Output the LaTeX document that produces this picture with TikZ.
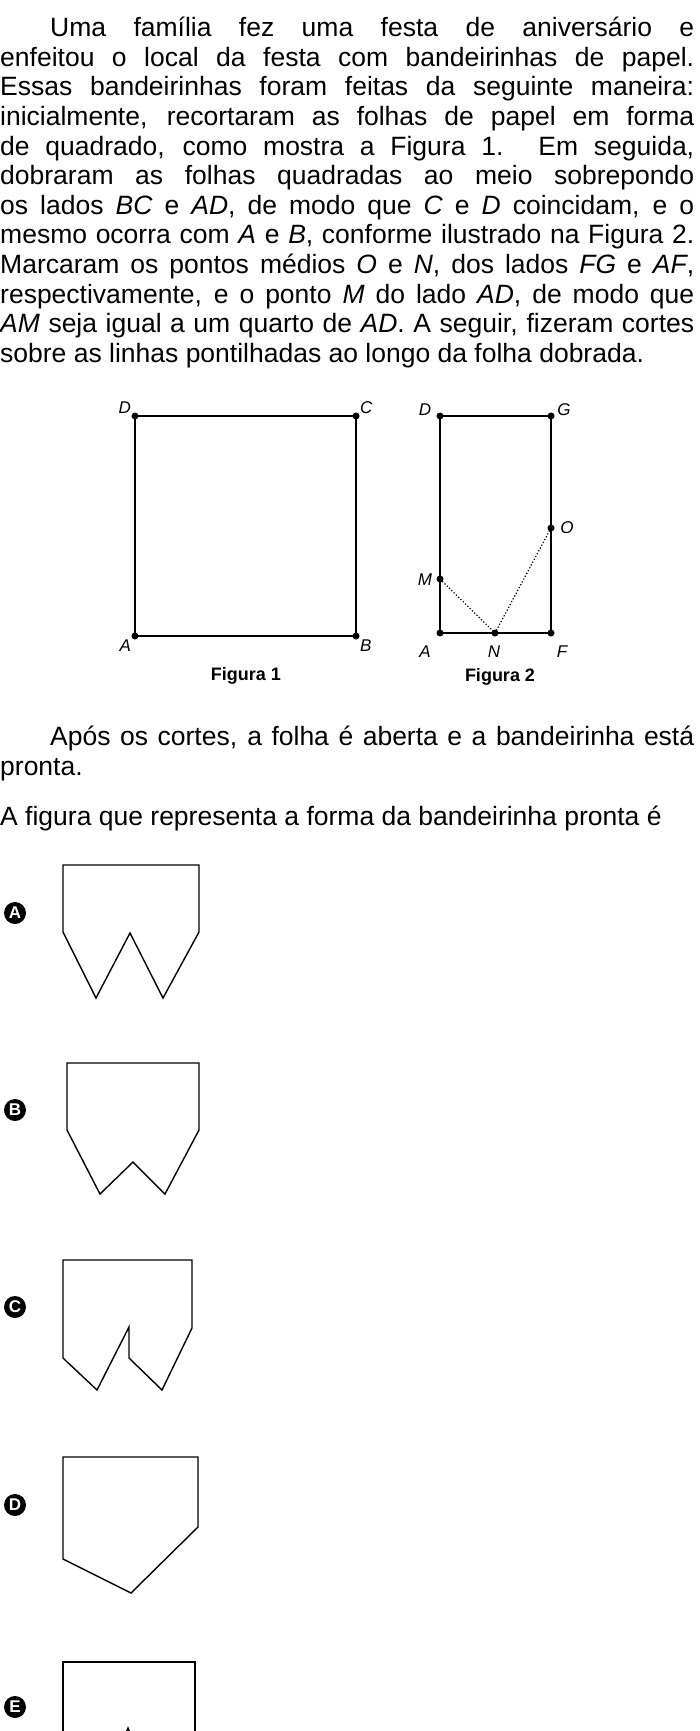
\documentclass[tikz,border=0pt]{standalone}
\usepackage{fontspec}
\setmainfont{Liberation Sans}
\usepackage{tikz}
\usetikzlibrary{positioning}

\tikzset{
  pt/.style={circle,fill=black,inner sep=0pt,minimum size=7pt},
  lbl/.style={font=\fontsize{17}{19}\selectfont\itshape},
  side/.style={line width=1.8pt},
  flag/.style={line width=1.4pt,line join=miter},
  opt/.style={circle,fill=black,text=white,inner sep=0pt,minimum size=22pt,
    font=\fontsize{17}{17}\selectfont\bfseries},
  body/.style={inner sep=0pt,text width=694pt,align=justify,anchor=north west,
    font=\fontsize{26.5}{29.6}\selectfont}
}

\begin{document}
\begin{tikzpicture}[x=1pt,y=-1pt]
\useasboundingbox[fill=white] (0,0) rectangle (700,1731);

% enunciado
\node[body] (txt) at (0,17) {\hspace*{50pt}Uma família fez uma festa de aniversário e\linebreak
enfeitou o local da festa com bandeirinhas de papel.\linebreak
Essas bandeirinhas foram feitas da seguinte maneira:\linebreak
inicialmente, recortaram as folhas de papel em forma\linebreak
de quadrado, como mostra a Figura 1. Em seguida,\linebreak
dobraram as folhas quadradas ao meio sobrepondo\linebreak
os lados \textit{BC} e \textit{AD}, de modo que \textit{C} e \textit{D} coincidam, e o\linebreak
mesmo ocorra com \textit{A} e \textit{B}, conforme ilustrado na Figura 2.\linebreak
Marcaram os pontos médios \textit{O} e \textit{N}, dos lados \textit{FG} e \textit{AF},\linebreak
respectivamente, e o ponto \textit{M} do lado \textit{AD}, de modo que\linebreak
\textit{AM} seja igual a um quarto de \textit{AD}. A seguir, fizeram cortes\linebreak
sobre as linhas pontilhadas ao longo da folha dobrada.};

% Figura 1
\node[pt] (A1) at (135,636) {};
\node[pt] (B1) at (356,636) {};
\node[pt] (C1) at (356,416) {};
\node[pt] (D1) at (135,416) {};
\draw[side] (A1.center) -- (B1.center) -- (C1.center) -- (D1.center) -- cycle;
\node[lbl,below left=-2pt and -2pt of A1] {A};
\node[lbl,below right=-2pt and -2pt of B1] {B};
\node[lbl,above right=-4pt and -2pt of C1] {C};
\node[lbl,above left=-4pt and -2pt of D1] {D};
\node[font=\fontsize{18}{18}\selectfont\bfseries] (fig1) at (246,676) {Figura 1};

% Figura 2
\node[pt] (A2) at (440,633) {};
\node[pt] (N2) at (495,633) {};
\node[pt] (F2) at (551,633) {};
\node[pt] (O2) at (551,528) {};
\node[pt] (G2) at (551,416) {};
\node[pt] (D2) at (440,416) {};
\node[pt] (M2) at (440,579) {};
\draw[side] (A2.center) -- (F2.center) -- (G2.center) -- (D2.center) -- cycle;
\draw[line width=1.2pt,dotted] (M2.center) -- (N2.center) -- (O2.center);
\node[lbl] at (425,652) {A};
\node[lbl] at (494,652) {N};
\node[lbl] at (562,652) {F};
\node[lbl] at (567,528) {O};
\node[lbl] at (425,580) {M};
\node[lbl] at (564,410) {G};
\node[lbl] at (425,410) {D};
\node[font=\fontsize{18}{18}\selectfont\bfseries] (fig2) at (500,677) {Figura 2};

% depois dos cortes
\node[body] (txt2) at (0,726) {\hspace*{50pt}Após os cortes, a folha é aberta e a bandeirinha está\linebreak pronta.};
\node[body] (txt3) at (0,806) {A figura que representa a forma da bandeirinha pronta é};

% alternativas
\node[opt] (optA) at (15,913) {A};
\draw[flag] (63,865) -- (199,865) -- (199,932) -- (163,998) -- (130,933) -- (96,998) -- (63,932) -- cycle;

\node[opt] (optB) at (15,1110) {B};
\draw[flag] (67,1063) -- (199,1063) -- (199,1130) -- (165,1194) -- (133,1162) -- (100,1194) -- (67,1130) -- cycle;

\node[opt] (optC) at (15,1307) {C};
\draw[flag] (63,1260) -- (192,1260) -- (192,1328) -- (162,1390) -- (129,1358) -- (129,1327) -- (97,1390) -- (63,1358) -- cycle;

\node[opt] (optD) at (15,1505) {D};
\draw[flag] (63,1457) -- (198,1457) -- (198,1527) -- (131,1593) -- (63,1559) -- cycle;

\node[opt] (optE) at (15,1707) {E};
\draw[flag] (63,1740) -- (63,1662) -- (195,1662) -- (195,1740);
\draw[flag] (123,1740) -- (128,1728) -- (133,1740);
\end{tikzpicture}
\end{document}
